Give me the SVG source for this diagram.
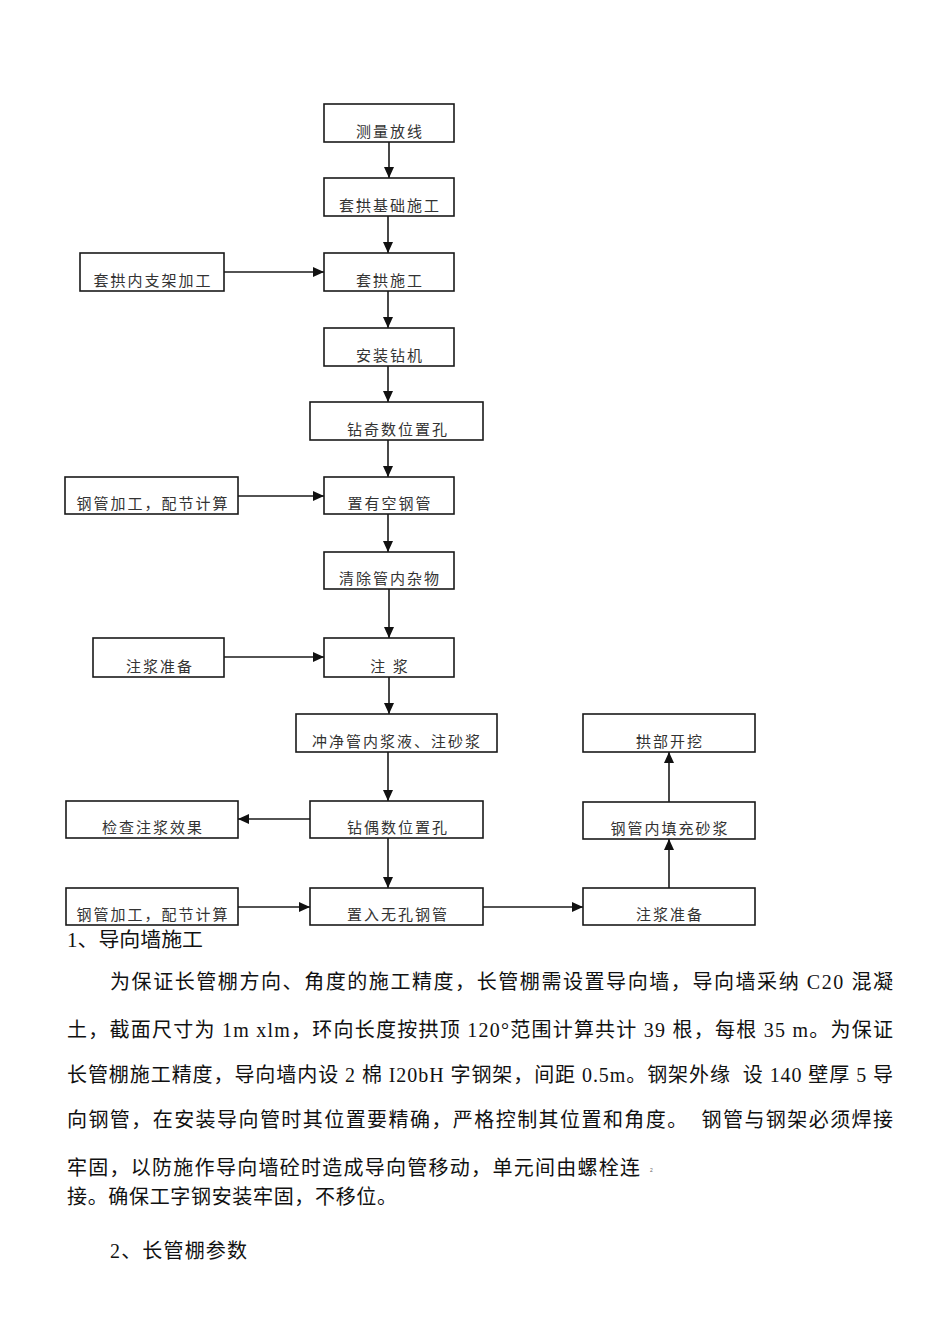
<svg xmlns="http://www.w3.org/2000/svg" width="950" height="1344" viewBox="0 0 950 1344">
<style>
.box{fill:#fff;stroke:#1a1a1a;stroke-width:1.6}
.bt{font-family:"Noto Sans CJK SC","Liberation Sans",sans-serif;font-size:15px;letter-spacing:2px;fill:#333;text-anchor:middle}
.ln{stroke:#1a1a1a;stroke-width:1.6;fill:none;marker-end:url(#ah)}
.p{font-family:"Liberation Serif","Noto Sans CJK SC",serif;font-size:20px;fill:#111}
</style>
<defs>
<marker id="ah" markerUnits="userSpaceOnUse" markerWidth="12" markerHeight="10" refX="11" refY="5" orient="auto">
<path d="M0,0 L11,5 L0,10 z" fill="#111"/>
</marker>
</defs>
<rect width="950" height="1344" fill="#fff"/>

<g id="connectors">
<line class="ln" x1="389" y1="142" x2="389" y2="178"/>
<line class="ln" x1="388" y1="216" x2="388" y2="253"/>
<line class="ln" x1="224" y1="272" x2="324" y2="272"/>
<line class="ln" x1="388" y1="291" x2="388" y2="328"/>
<line class="ln" x1="388" y1="366" x2="388" y2="402"/>
<line class="ln" x1="388" y1="440" x2="388" y2="477"/>
<line class="ln" x1="238" y1="496" x2="324" y2="496"/>
<line class="ln" x1="388" y1="514" x2="388" y2="552"/>
<line class="ln" x1="389" y1="589" x2="389" y2="638"/>
<line class="ln" x1="224" y1="657" x2="324" y2="657"/>
<line class="ln" x1="389" y1="677" x2="389" y2="714"/>
<line class="ln" x1="388" y1="752" x2="388" y2="801"/>
<line class="ln" x1="310" y1="819" x2="238" y2="819"/>
<line class="ln" x1="388" y1="838" x2="388" y2="888"/>
<line class="ln" x1="238" y1="907" x2="310" y2="907"/>
<line class="ln" x1="483" y1="907" x2="583" y2="907"/>
<line class="ln" x1="669" y1="888" x2="669" y2="839"/>
<line class="ln" x1="669" y1="802" x2="669" y2="752"/>
</g>

<g id="n1"><rect class="box" x="324" y="104" width="130" height="38"/><text class="bt" x="390" y="137">测量放线</text></g>
<g id="n2"><rect class="box" x="324" y="178" width="130" height="38"/><text class="bt" x="390" y="211">套拱基础施工</text></g>
<g id="n3"><rect class="box" x="324" y="253" width="130" height="38"/><text class="bt" x="390" y="286">套拱施工</text></g>
<g id="n3a"><rect class="box" x="80" y="253" width="144" height="38"/><text class="bt" x="153" y="286">套拱内支架加工</text></g>
<g id="n4"><rect class="box" x="324" y="328" width="130" height="38"/><text class="bt" x="390" y="361">安装钻机</text></g>
<g id="n5"><rect class="box" x="310" y="402" width="173" height="38"/><text class="bt" x="398" y="435">钻奇数位置孔</text></g>
<g id="n6"><rect class="box" x="324" y="477" width="130" height="37"/><text class="bt" x="390" y="509">置有空钢管</text></g>
<g id="n6a"><rect class="box" x="65" y="477" width="173" height="37"/><text class="bt" x="153" y="509">钢管加工，配节计算</text></g>
<g id="n7"><rect class="box" x="324" y="552" width="130" height="37"/><text class="bt" x="390" y="584">清除管内杂物</text></g>
<g id="n8"><rect class="box" x="324" y="638" width="130" height="39"/><text class="bt" x="390" y="672">注 浆</text></g>
<g id="n8a"><rect class="box" x="93" y="638" width="131" height="39"/><text class="bt" x="160" y="672">注浆准备</text></g>
<g id="n9"><rect class="box" x="296" y="714" width="201" height="38"/><text class="bt" x="397" y="747">冲净管内浆液、注砂浆</text></g>
<g id="n10"><rect class="box" x="310" y="801" width="173" height="37"/><text class="bt" x="398" y="833">钻偶数位置孔</text></g>
<g id="n10a"><rect class="box" x="66" y="801" width="172" height="37"/><text class="bt" x="153" y="833">检查注浆效果</text></g>
<g id="n11"><rect class="box" x="310" y="888" width="173" height="37"/><text class="bt" x="398" y="920">置入无孔钢管</text></g>
<g id="n11a"><rect class="box" x="66" y="888" width="172" height="37"/><text class="bt" x="153" y="920">钢管加工，配节计算</text></g>
<g id="n12"><rect class="box" x="583" y="888" width="172" height="37"/><text class="bt" x="670" y="920">注浆准备</text></g>
<g id="n13"><rect class="box" x="583" y="802" width="172" height="37"/><text class="bt" x="670" y="834">钢管内填充砂浆</text></g>
<g id="n14"><rect class="box" x="583" y="714" width="172" height="38"/><text class="bt" x="670" y="747">拱部开挖</text></g>

<g id="body">
<text class="p" x="67" y="947" textLength="136" lengthAdjust="spacingAndGlyphs">1、导向墙施工</text>
<text class="p" x="110" y="989" textLength="783" lengthAdjust="spacing">为保证长管棚方向、角度的施工精度，长管棚需设置导向墙，导向墙采纳 C20 混凝</text>
<text class="p" x="67" y="1037" textLength="826" lengthAdjust="spacing">土，截面尺寸为 1m xlm，环向长度按拱顶 120°范围计算共计 39 根，每根 35 m。为保证</text>
<text class="p" x="67" y="1082" textLength="826" lengthAdjust="spacing" xml:space="preserve">长管棚施工精度，导向墙内设 2 棉 I20bH 字钢架，间距 0.5m。钢架外缘  设 140 壁厚 5 导</text>
<text class="p" x="67" y="1127" textLength="826" lengthAdjust="spacing" xml:space="preserve">向钢管，在安装导向管时其位置要精确，严格控制其位置和角度。  钢管与钢架必须焊接</text>
<text class="p" x="67" y="1175" textLength="573" lengthAdjust="spacing">牢固，以防施作导向墙砼时造成导向管移动，单元间由螺栓连</text>
<text x="650" y="1172" font-family="Liberation Sans, sans-serif" font-size="5" fill="#666">2</text>
<text class="p" x="67" y="1204" textLength="330" lengthAdjust="spacing">接。确保工字钢安装牢固，不移位。</text>
<text class="p" x="110" y="1258" textLength="137" lengthAdjust="spacing">2、长管棚参数</text>
</g>
</svg>
